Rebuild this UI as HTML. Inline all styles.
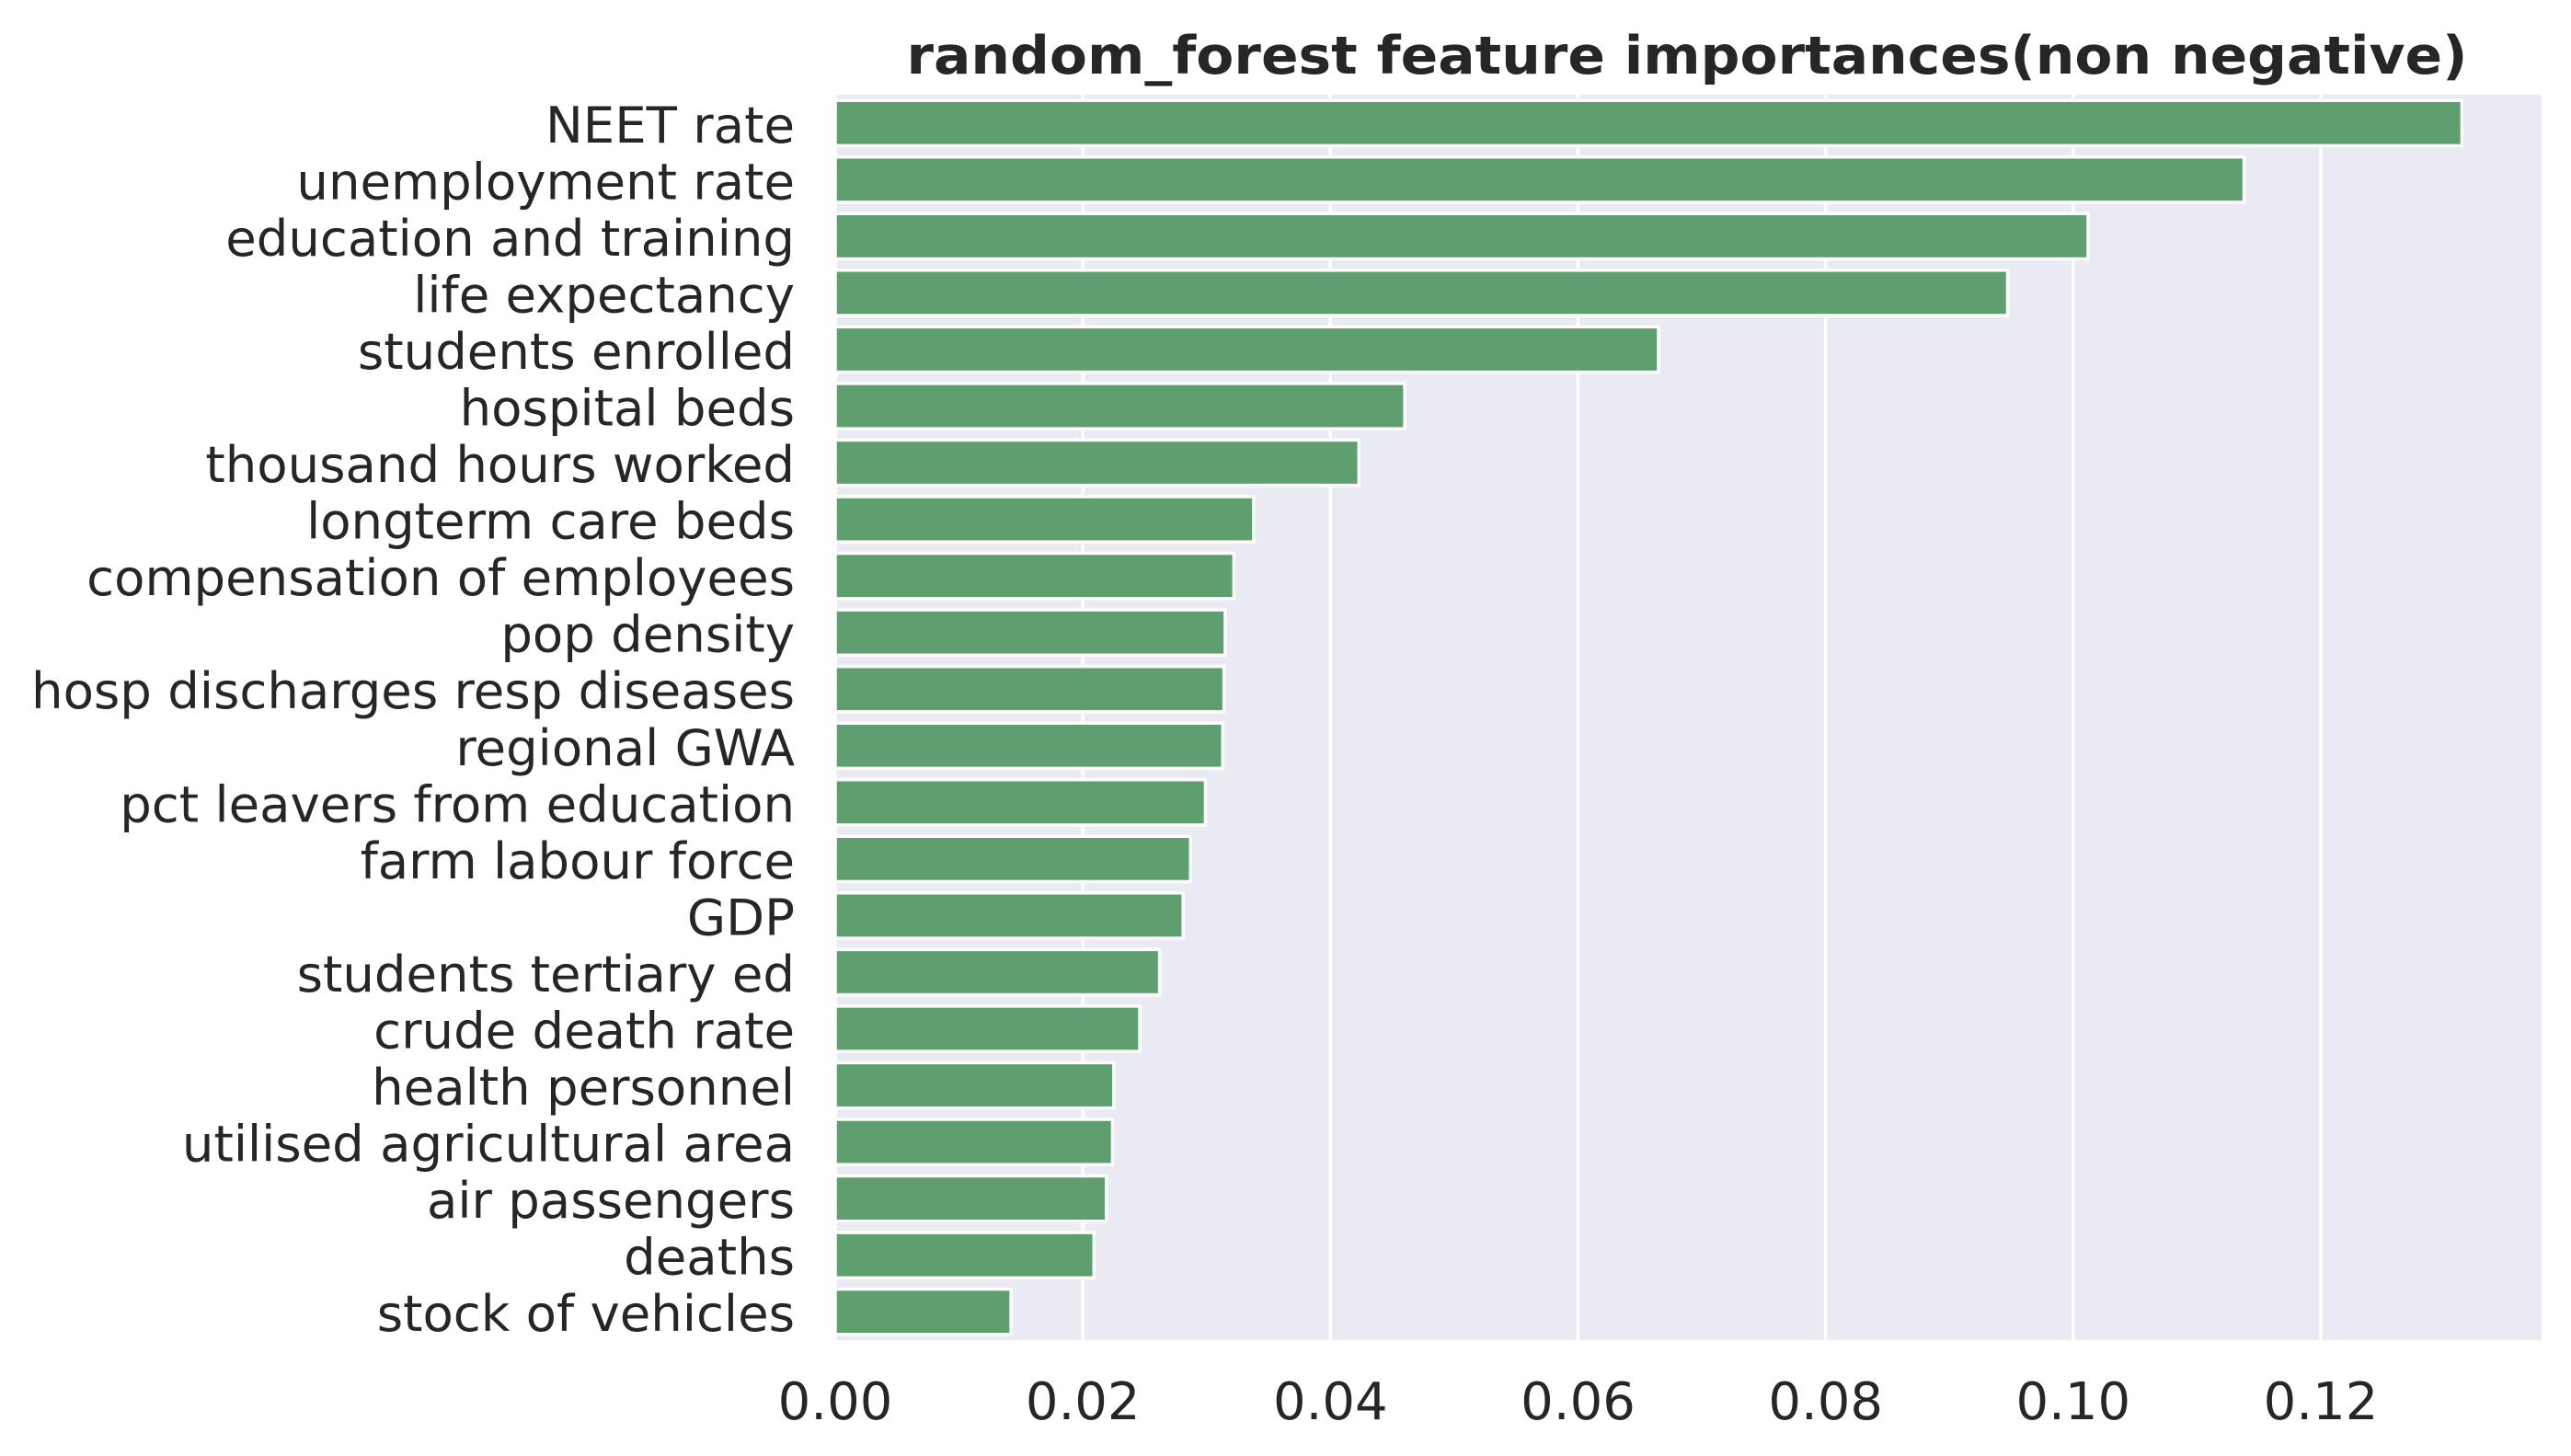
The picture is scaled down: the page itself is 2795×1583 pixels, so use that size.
<!DOCTYPE html>
<html><head><meta charset="utf-8"><style>
html,body{margin:0;padding:0;background:#fff;}
svg{display:block;}
text{font-family:"DejaVu Sans","Liberation Sans",sans-serif;fill:#262626;}
</style></head><body>
<svg id="chart" width="2795" height="1583" viewBox="0 0 2795 1583" xmlns="http://www.w3.org/2000/svg">
<rect x="908" y="103" width="1855" height="1354" fill="#eaeaf2"/>
<g id="grid"></g>
<g id="bars"></g>
<g id="ylabels"></g>
<g id="xticks"></g>
<text x="1834" y="80" text-anchor="middle" font-size="57" font-weight="bold" textLength="1697" lengthAdjust="spacingAndGlyphs">random_forest feature importances(non negative)</text>
</svg>
<script>
const categories = ["NEET rate","unemployment rate","education and training","life expectancy","students enrolled","hospital beds","thousand hours worked","longterm care beds","compensation of employees","pop density","hosp discharges resp diseases","regional GWA","pct leavers from education","farm labour force","GDP","students tertiary ed","crude death rate","health personnel","utilised agricultural area","air passengers","deaths","stock of vehicles"];
const importances = [0.1314,0.1138,0.1012,0.0947,0.0665,0.0460,0.0423,0.0338,0.0322,0.0315,0.0314,0.0313,0.0299,0.0287,0.0281,0.0262,0.0246,0.0225,0.0224,0.0219,0.0209,0.0142];
const xTicks = [0,0.02,0.04,0.06,0.08,0.10,0.12];
const xTickLabels = ["0.00","0.02","0.04","0.06","0.08","0.10","0.12"];

const NS="http://www.w3.org/2000/svg";
const plotLeft=908, plotRight=2763, plotTop=103, plotBottom=1457;
const pxPerUnit=(2523-908)/0.12;
function xScale(v){return plotLeft+v*pxPerUnit;}
const band=(plotBottom-plotTop)/categories.length;
function yCenter(i){return plotTop+band*(i+0.5);}
function mk(tag,attrs,parent){const e=document.createElementNS(NS,tag);for(const k in attrs)e.setAttribute(k,attrs[k]);parent.appendChild(e);return e;}

const grid=document.getElementById('grid'), xt=document.getElementById('xticks');
xTicks.forEach((t,i)=>{
  const x=xScale(t);
  const g=mk('line',{x1:x,x2:x,y1:plotTop,y2:plotBottom,stroke:'#fff','stroke-width':3.5},grid);
  
  
  const tx=mk('text',{x:x,y:1543,'text-anchor':'middle','font-size':56},xt);
  tx.textContent=xTickLabels[i];
  
  
});
const bars=document.getElementById('bars'), yl=document.getElementById('ylabels');
categories.forEach((c,i)=>{
  const h=band*0.8, cy=yCenter(i);
  const r=mk('rect',{x:plotLeft,y:cy-h/2,width:xScale(importances[i])-plotLeft,height:h,fill:'#5f9e6e',stroke:'#fff','stroke-width':3.5},bars);
  
  
  const t=mk('text',{x:864,y:cy+21,'text-anchor':'end','font-size':54.5},yl);
  t.textContent=c;
  
  
});
</script>
</body></html>
